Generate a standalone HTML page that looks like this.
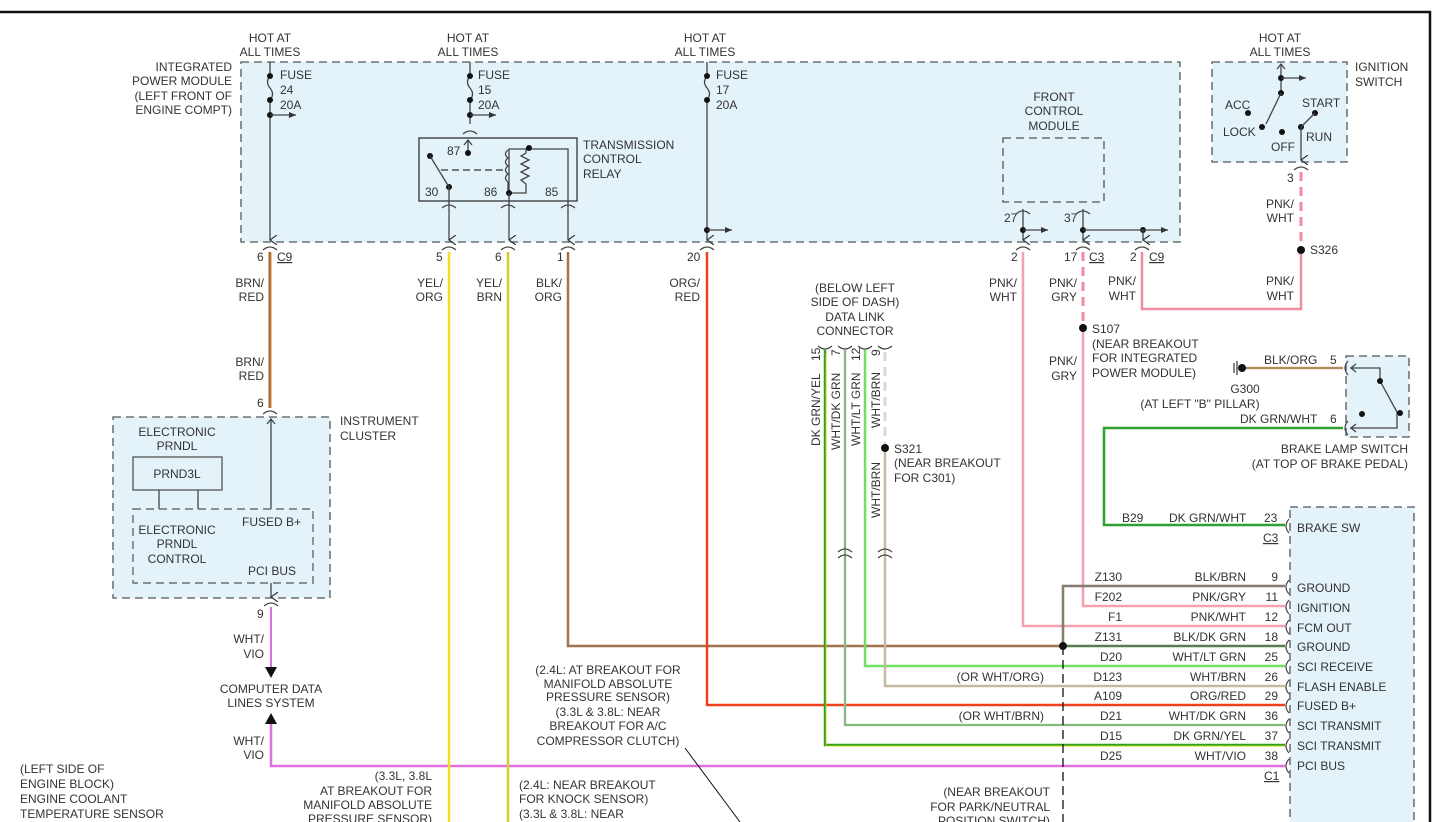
<!DOCTYPE html>
<html><head><meta charset="utf-8"><style>
html,body{margin:0;padding:0;background:#fff}
svg{display:block}
text{font-family:"Liberation Sans",sans-serif;font-size:12px;fill:#333}
.box{fill:#e4f3fa;stroke:#555;stroke-width:1.3;stroke-dasharray:8,5}
.w{fill:none;stroke:#444;stroke-width:1.3}
.c{fill:none;stroke:#444;stroke-width:1.2}
</style></head><body>
<svg width="1433" height="822" viewBox="0 0 1433 822" xmlns="http://www.w3.org/2000/svg">
<defs>
<marker id="ar" markerWidth="8" markerHeight="8" refX="7" refY="4" orient="auto" markerUnits="userSpaceOnUse"><path d="M0,1 L7,4 L0,7 z" fill="#333"/></marker>
<marker id="av" markerWidth="10" markerHeight="8" refX="5" refY="7" orient="auto" markerUnits="userSpaceOnUse"><path d="M0,0 L5,7 L10,0" fill="none" stroke="#333" stroke-width="1.2"/></marker>
</defs>
<!-- border -->
<line x1="0" y1="12" x2="1431" y2="12" stroke="#111" stroke-width="2.5"/>
<line x1="1430" y1="11" x2="1430" y2="822" stroke="#111" stroke-width="2.5"/>

<!-- IPM box -->
<rect class="box" x="241" y="62" width="939" height="180"/>
<text x="232" y="71" text-anchor="end">INTEGRATED</text>
<text x="232" y="85" text-anchor="end">POWER MODULE</text>
<text x="232" y="100" text-anchor="end">(LEFT FRONT OF</text>
<text x="232" y="114" text-anchor="end">ENGINE COMPT)</text>

<!-- hot at all times labels -->
<text x="270" y="42" text-anchor="middle">HOT AT</text><text x="270" y="56" text-anchor="middle">ALL TIMES</text>
<text x="468" y="42" text-anchor="middle">HOT AT</text><text x="468" y="56" text-anchor="middle">ALL TIMES</text>
<text x="705" y="42" text-anchor="middle">HOT AT</text><text x="705" y="56" text-anchor="middle">ALL TIMES</text>
<text x="1280" y="42" text-anchor="middle">HOT AT</text><text x="1280" y="56" text-anchor="middle">ALL TIMES</text>

<!-- Fuse 24 -->
<path class="w" d="M270,62 V76 q-5,6 0,12 q5,6 0,12 V240" marker-end="url(#av)"/>
<circle cx="270" cy="76" r="3" fill="#111"/><circle cx="270" cy="100" r="3" fill="#111"/><circle cx="270" cy="115" r="3" fill="#111"/>
<line class="w" x1="270" y1="115" x2="296" y2="115" marker-end="url(#ar)"/>
<text x="280" y="79">FUSE</text><text x="280" y="94">24</text><text x="280" y="109">20A</text>

<!-- Fuse 15 -->
<path class="w" d="M470,62 V76 q-5,6 0,12 q5,6 0,12 V124"/>
<circle cx="470" cy="76" r="3" fill="#111"/><circle cx="470" cy="100" r="3" fill="#111"/><circle cx="470" cy="115" r="3" fill="#111"/>
<line class="w" x1="470" y1="115" x2="496" y2="115" marker-end="url(#ar)"/>
<text x="478" y="79">FUSE</text><text x="478" y="94">15</text><text x="478" y="109">20A</text>
<path class="c" d="M463,134 q7,-6 14,0"/>

<!-- relay -->
<rect x="419" y="138" width="158" height="63" fill="#e4f3fa" stroke="#333" stroke-width="1.3"/>
<path class="w" d="M468,153 V140 M464,145 l4,-5 4,5"/>
<circle cx="468" cy="153" r="3" fill="#111"/>
<text x="447" y="155">87</text>
<circle cx="430" cy="156" r="3" fill="#111"/><circle cx="449" cy="187" r="3" fill="#111"/>
<line class="w" x1="430" y1="156" x2="449" y2="187"/>
<line x1="441" y1="170" x2="505" y2="170" stroke="#333" stroke-width="1.2" stroke-dasharray="7,4"/>
<path class="w" d="M509,197 V149 H568 V240" marker-end="url(#av)"/>
<path class="w" d="M508,150 q-5,4 0,8 q-5,4 0,8 q-5,4 0,8 q-5,4 0,8 M508,182 V193 H526 V184 l-5,-4 8,-4 -8,-4 8,-4 -8,-4 8,-4 -8,-4 5,-3 V149"/>
<circle cx="529" cy="148" r="3" fill="#111"/><circle cx="509" cy="193" r="3" fill="#111"/>
<path class="w" d="M449,187 V240" marker-end="url(#av)"/>
<path class="w" d="M509,193 V240" marker-end="url(#av)"/>
<text x="425" y="196">30</text><text x="484" y="196">86</text><text x="545" y="196">85</text>
<text x="583" y="149">TRANSMISSION</text><text x="583" y="163">CONTROL</text><text x="583" y="178">RELAY</text>
<path class="c" d="M442,208 q7,-6 14,0 M501,208 q7,-6 14,0 M561,208 q7,-6 14,0"/>

<!-- Fuse 17 -->
<path class="w" d="M707,62 V76 q-5,6 0,12 q5,6 0,12 V240" marker-end="url(#av)"/>
<circle cx="707" cy="76" r="3" fill="#111"/><circle cx="707" cy="100" r="3" fill="#111"/><circle cx="707" cy="230" r="3" fill="#111"/>
<line class="w" x1="707" y1="230" x2="732" y2="230" marker-end="url(#ar)"/>
<text x="716" y="79">FUSE</text><text x="716" y="94">17</text><text x="716" y="109">20A</text>

<!-- FCM -->
<rect class="box" x="1003" y="138" width="101" height="64"/>
<text x="1054" y="101" text-anchor="middle">FRONT</text><text x="1054" y="115" text-anchor="middle">CONTROL</text><text x="1054" y="130" text-anchor="middle">MODULE</text>
<path class="c" d="M1016,214 q7,-6 14,0 M1076,214 q7,-6 14,0"/>
<path class="w" d="M1023,209 V240" marker-end="url(#av)"/>
<path class="w" d="M1083,209 V240" marker-end="url(#av)"/>
<circle cx="1023" cy="230" r="3" fill="#111"/><circle cx="1083" cy="230" r="3" fill="#111"/><circle cx="1143" cy="230" r="3" fill="#111"/>
<line class="w" x1="1023" y1="230" x2="1048" y2="230" marker-end="url(#ar)"/>
<line class="w" x1="1083" y1="230" x2="1168" y2="230" marker-end="url(#ar)"/>
<path class="w" d="M1143,230 V240" marker-end="url(#av)"/>
<text x="1004" y="222">27</text><text x="1064" y="222">37</text>

<!-- connectors under IPM -->
<path class="c" d="M263,250 q7,-6 14,0 M442,250 q7,-6 14,0 M501,250 q7,-6 14,0 M561,250 q7,-6 14,0 M700,250 q7,-6 14,0 M1016,250 q7,-6 14,0 M1076,250 q7,-6 14,0 M1135,250 q7,-6 14,0"/>
<text x="257" y="261">6</text><text x="277" y="261" text-decoration="underline">C9</text>
<text x="436" y="261">5</text><text x="495" y="261">6</text><text x="557" y="261">1</text><text x="687" y="261">20</text>
<text x="1011" y="261">2</text><text x="1064" y="261">17</text><text x="1089" y="261" text-decoration="underline">C3</text>
<text x="1130" y="261">2</text><text x="1149" y="261" text-decoration="underline">C9</text>

<!-- Ignition switch -->
<rect class="box" x="1212" y="62" width="135" height="100"/>
<text x="1355" y="71">IGNITION</text><text x="1355" y="86">SWITCH</text>
<path class="w" d="M1281,92 V64 M1277,69 l4,-5 4,5"/>
<circle cx="1281" cy="78" r="3" fill="#111"/><circle cx="1281" cy="93" r="3" fill="#111"/>
<line class="w" x1="1281" y1="78" x2="1306" y2="78" marker-end="url(#ar)"/>
<line class="w" x1="1281" y1="93" x2="1266" y2="124"/>
<circle cx="1262" cy="127" r="3" fill="#111"/><circle cx="1248" cy="113" r="3" fill="#111"/><circle cx="1282" cy="132" r="3" fill="#111"/>
<circle cx="1315" cy="113" r="3" fill="#111"/><circle cx="1301" cy="127" r="3" fill="#111"/>
<line class="w" x1="1301" y1="127" x2="1315" y2="113"/>
<path class="w" d="M1301,127 V160" marker-end="url(#av)"/>
<text x="1225" y="109">ACC</text><text x="1223" y="136">LOCK</text><text x="1271" y="151">OFF</text>
<text x="1302" y="107">START</text><text x="1306" y="141">RUN</text>
<path class="c" d="M1294,170 q7,-6 14,0"/>
<text x="1287" y="182">3</text>

<!-- PNK/WHT from ignition -->
<line x1="1301" y1="172" x2="1301" y2="248" stroke="#f08ca0" stroke-width="3" stroke-dasharray="9,6"/>
<circle cx="1301" cy="250" r="4" fill="#111"/>
<text x="1310" y="254">S326</text>
<text x="1294" y="208" text-anchor="end">PNK/</text><text x="1294" y="222" text-anchor="end">WHT</text>
<text x="1294" y="285" text-anchor="end">PNK/</text><text x="1294" y="300" text-anchor="end">WHT</text>
<path d="M1142,252 V309 H1301 V254" fill="none" stroke="#f08ca0" stroke-width="2.5"/>
<text x="1136" y="285" text-anchor="end">PNK/</text><text x="1136" y="300" text-anchor="end">WHT</text>

<!-- left BRN/RED -->
<line x1="270" y1="252" x2="270" y2="408" stroke="#9a6a30" stroke-width="3"/>
<line x1="271" y1="252" x2="271" y2="408" stroke="#e08030" stroke-width="1"/>
<text x="264" y="287" text-anchor="end">BRN/</text><text x="264" y="301" text-anchor="end">RED</text>
<text x="264" y="366" text-anchor="end">BRN/</text><text x="264" y="380" text-anchor="end">RED</text>
<text x="257" y="407">6</text>
<path class="c" d="M263,414 q7,-6 14,0"/>

<!-- Instrument cluster -->
<rect class="box" x="113" y="417" width="217" height="181"/>
<text x="340" y="425">INSTRUMENT</text><text x="340" y="440">CLUSTER</text>
<text x="177" y="436" text-anchor="middle">ELECTRONIC</text><text x="177" y="450" text-anchor="middle">PRNDL</text>
<rect x="133" y="457" width="89" height="33" fill="#e4f3fa" stroke="#555" stroke-width="1.3"/>
<text x="177" y="478" text-anchor="middle">PRND3L</text>
<line class="w" x1="159" y1="490" x2="159" y2="509"/><line class="w" x1="198" y1="490" x2="198" y2="509"/>
<rect x="133" y="509" width="180" height="74" fill="none" stroke="#555" stroke-width="1.2" stroke-dasharray="8,5"/>
<text x="177" y="534" text-anchor="middle">ELECTRONIC</text><text x="177" y="548" text-anchor="middle">PRNDL</text><text x="177" y="563" text-anchor="middle">CONTROL</text>
<text x="242" y="526">FUSED B+</text><text x="248" y="575">PCI BUS</text>
<path class="w" d="M271,509 V419 M267,424 l4,-5 4,5"/>
<path class="w" d="M271,583 V597" marker-end="url(#av)"/>
<path class="c" d="M264,606 q7,-6 14,0"/>
<text x="257" y="618">9</text>
<line x1="271" y1="607" x2="271" y2="668" stroke="#e070e0" stroke-width="2"/>
<path d="M265,667 L277,667 L271,678 z" fill="#111"/>
<text x="264" y="643" text-anchor="end">WHT/</text><text x="264" y="658" text-anchor="end">VIO</text>
<text x="271" y="693" text-anchor="middle">COMPUTER DATA</text><text x="271" y="707" text-anchor="middle">LINES SYSTEM</text>
<path d="M265,724 L277,724 L271,713 z" fill="#111"/>
<text x="264" y="745" text-anchor="end">WHT/</text><text x="264" y="759" text-anchor="end">VIO</text>
<path d="M271,724 V766 H1285" fill="none" stroke="#e070e0" stroke-width="2.5"/>

<!-- YEL wires -->
<line x1="449" y1="252" x2="449" y2="822" stroke="#f0e020" stroke-width="2.5"/>
<line x1="508" y1="252" x2="508" y2="822" stroke="#d8cc30" stroke-width="2.5"/>
<text x="443" y="287" text-anchor="end">YEL/</text><text x="443" y="301" text-anchor="end">ORG</text>
<text x="502" y="287" text-anchor="end">YEL/</text><text x="502" y="301" text-anchor="end">BRN</text>
<text x="562" y="287" text-anchor="end">BLK/</text><text x="562" y="301" text-anchor="end">ORG</text>
<text x="700" y="287" text-anchor="end">ORG/</text><text x="700" y="301" text-anchor="end">RED</text>
<text x="1017" y="287" text-anchor="end">PNK/</text><text x="1017" y="301" text-anchor="end">WHT</text>
<text x="1077" y="287" text-anchor="end">PNK/</text><text x="1077" y="301" text-anchor="end">GRY</text>

<!-- BLK/ORG -->
<path d="M568,252 V646 H1063" fill="none" stroke="#8a6a50" stroke-width="2.5"/>
<path d="M568,252 V646 H1063" fill="none" stroke="#d08040" stroke-width="0.8"/>
<!-- ORG/RED -->
<path d="M707,252 V705 H1285" fill="none" stroke="#f04020" stroke-width="2.5"/>
<!-- PNK/WHT FCM -->
<path d="M1023,252 V626 H1285" fill="none" stroke="#f5a0b0" stroke-width="2.5"/>
<!-- PNK/GRY -->
<line x1="1083" y1="252" x2="1083" y2="325" stroke="#f08ca0" stroke-width="3" stroke-dasharray="9,6"/>
<path d="M1083,330 V606 H1285" fill="none" stroke="#f5a0b0" stroke-width="2.5"/>
<circle cx="1083" cy="328" r="4" fill="#111"/>
<text x="1092" y="333">S107</text><text x="1092" y="348">(NEAR BREAKOUT</text><text x="1092" y="362">FOR INTEGRATED</text><text x="1092" y="377">POWER MODULE)</text>
<text x="1077" y="365" text-anchor="end">PNK/</text><text x="1077" y="380" text-anchor="end">GRY</text>

<!-- Data link connector -->
<text x="855" y="292" text-anchor="middle">(BELOW LEFT</text><text x="855" y="306" text-anchor="middle">SIDE OF DASH)</text>
<text x="855" y="321" text-anchor="middle">DATA LINK</text><text x="855" y="335" text-anchor="middle">CONNECTOR</text>
<path class="c" d="M818,346 q7,6 14,0 M838,346 q7,6 14,0 M858,346 q7,6 14,0 M878,346 q7,6 14,0"/>
<text transform="translate(820,361) rotate(-90)">15</text>
<text transform="translate(840,356) rotate(-90)">7</text>
<text transform="translate(860,361) rotate(-90)">12</text>
<text transform="translate(880,356) rotate(-90)">9</text>
<text transform="translate(820,446) rotate(-90)">DK GRN/YEL</text>
<text transform="translate(840,450) rotate(-90)">WHT/DK GRN</text>
<text transform="translate(860,446) rotate(-90)">WHT/LT GRN</text>
<text transform="translate(880,428) rotate(-90)">WHT/BRN</text>
<text transform="translate(880,518) rotate(-90)">WHT/BRN</text>
<path d="M825,350 V745 H1285" fill="none" stroke="#30a020" stroke-width="2.5"/>
<path d="M825,352 V745 H1285" fill="none" stroke="#e0e000" stroke-width="0.7" transform="translate(1,1)"/>
<path d="M845,350 V725 H1285" fill="none" stroke="#c8c8c8" stroke-width="2.5"/>
<path d="M845,350 V725 H1285" fill="none" stroke="#40b030" stroke-width="1"/>
<path d="M865,350 V666 H1285" fill="none" stroke="#70e060" stroke-width="2.5"/>
<line x1="885" y1="352" x2="885" y2="445" stroke="#d8d8d8" stroke-width="3" stroke-dasharray="9,6"/>
<circle cx="885" cy="448" r="4" fill="#111"/>
<path d="M885,452 V686 H1285" fill="none" stroke="#c8b8a0" stroke-width="2.5"/>
<text x="894" y="453">S321</text><text x="894" y="467">(NEAR BREAKOUT</text><text x="894" y="482">FOR C301)</text>
<path class="c" d="M838,552 q7,-6 14,0 M838,558 q7,-6 14,0 M878,552 q7,-6 14,0 M878,558 q7,-6 14,0"/>
<text x="1044" y="681" text-anchor="end">(OR WHT/ORG)</text>
<text x="1044" y="720" text-anchor="end">(OR WHT/BRN)</text>

<!-- G300, brake lamp switch -->
<line x1="1234" y1="363" x2="1234" y2="373" stroke="#333" stroke-width="1.2"/>
<line x1="1237" y1="361" x2="1237" y2="375" stroke="#333" stroke-width="1.2"/>
<circle cx="1242" cy="368" r="4" fill="#111"/>
<line x1="1246" y1="368" x2="1343" y2="368" stroke="#e0a060" stroke-width="2.5"/>
<line x1="1246" y1="368" x2="1343" y2="368" stroke="#666" stroke-width="0.8"/>
<text x="1245" y="393" text-anchor="middle">G300</text>
<text x="1200" y="408" text-anchor="middle">(AT LEFT "B" PILLAR)</text>
<text x="1264" y="364">BLK/ORG</text><text x="1330" y="364">5</text>
<text x="1240" y="423">DK GRN/WHT</text><text x="1330" y="423">6</text>
<rect class="box" x="1346" y="356" width="63" height="81"/>
<path class="c" d="M1348,361 q-6,7 0,14 M1348,421 q-6,7 0,14"/>
<path class="w" d="M1350,368 H1380 V381 L1397,412 V428 H1350 M1356,364 l-5,4 5,4 M1356,424 l-5,4 5,4"/>
<circle cx="1380" cy="381" r="3" fill="#111"/><circle cx="1400" cy="413" r="3" fill="#111"/><circle cx="1362" cy="414" r="3" fill="#111"/>
<text x="1408" y="453" text-anchor="end">BRAKE LAMP SWITCH</text>
<text x="1408" y="468" text-anchor="end">(AT TOP OF BRAKE PEDAL)</text>
<path d="M1343,428 H1104 V525 H1285" fill="none" stroke="#30a030" stroke-width="2.5"/>
<text x="1122" y="522">B29</text><text x="1169" y="522">DK GRN/WHT</text><text x="1264" y="522">23</text>
<text x="1263" y="542" text-decoration="underline">C3</text>

<!-- PCM -->
<rect class="box" x="1290" y="507" width="124" height="330"/>
<path class="c" d="M1289,519 q-6,7 0,14"/>
<text x="1297" y="532">BRAKE SW</text>
<!-- ground dashed vertical -->
<line x1="1063" y1="590" x2="1063" y2="822" stroke="#111" stroke-width="1.3" stroke-dasharray="9,5"/>
<path d="M1063,646 V586 H1285" fill="none" stroke="#707070" stroke-width="2.5"/>
<path d="M1063,646 V586 H1285" fill="none" stroke="#c8a060" stroke-width="0.6"/>
<line x1="1063" y1="646" x2="1285" y2="646" stroke="#5a7a50" stroke-width="2.5"/>
<circle cx="1063" cy="646" r="4" fill="#111"/>
<g>
<text x="1122" y="581" text-anchor="end">Z130</text><text x="1246" y="581" text-anchor="end">BLK/BRN</text><text x="1278" y="581" text-anchor="end">9</text>
<text x="1122" y="601" text-anchor="end">F202</text><text x="1246" y="601" text-anchor="end">PNK/GRY</text><text x="1278" y="601" text-anchor="end">11</text>
<text x="1122" y="621" text-anchor="end">F1</text><text x="1246" y="621" text-anchor="end">PNK/WHT</text><text x="1278" y="621" text-anchor="end">12</text>
<text x="1122" y="641" text-anchor="end">Z131</text><text x="1246" y="641" text-anchor="end">BLK/DK GRN</text><text x="1278" y="641" text-anchor="end">18</text>
<text x="1122" y="661" text-anchor="end">D20</text><text x="1246" y="661" text-anchor="end">WHT/LT GRN</text><text x="1278" y="661" text-anchor="end">25</text>
<text x="1122" y="681" text-anchor="end">D123</text><text x="1246" y="681" text-anchor="end">WHT/BRN</text><text x="1278" y="681" text-anchor="end">26</text>
<text x="1122" y="700" text-anchor="end">A109</text><text x="1246" y="700" text-anchor="end">ORG/RED</text><text x="1278" y="700" text-anchor="end">29</text>
<text x="1122" y="720" text-anchor="end">D21</text><text x="1246" y="720" text-anchor="end">WHT/DK GRN</text><text x="1278" y="720" text-anchor="end">36</text>
<text x="1122" y="740" text-anchor="end">D15</text><text x="1246" y="740" text-anchor="end">DK GRN/YEL</text><text x="1278" y="740" text-anchor="end">37</text>
<text x="1122" y="760" text-anchor="end">D25</text><text x="1246" y="760" text-anchor="end">WHT/VIO</text><text x="1278" y="760" text-anchor="end">38</text>
<text x="1264" y="780" text-decoration="underline">C1</text>
</g>
<path class="c" d="M1289,580 q-6,7 0,14 M1289,600 q-6,7 0,14 M1289,620 q-6,7 0,14 M1289,640 q-6,7 0,14 M1289,660 q-6,7 0,14 M1289,680 q-6,7 0,14 M1289,699 q-6,7 0,14 M1289,719 q-6,7 0,14 M1289,739 q-6,7 0,14 M1289,759 q-6,7 0,14"/>
<text x="1297" y="592">GROUND</text><text x="1297" y="612">IGNITION</text><text x="1297" y="632">FCM OUT</text>
<text x="1297" y="651">GROUND</text><text x="1297" y="671">SCI RECEIVE</text><text x="1297" y="691">FLASH ENABLE</text>
<text x="1297" y="710">FUSED B+</text><text x="1297" y="730">SCI TRANSMIT</text><text x="1297" y="750">SCI TRANSMIT</text>
<text x="1297" y="770">PCI BUS</text>

<!-- bottom notes -->
<text x="608" y="674" text-anchor="middle">(2.4L: AT BREAKOUT FOR</text>
<text x="608" y="688" text-anchor="middle">MANIFOLD ABSOLUTE</text>
<text x="608" y="701" text-anchor="middle">PRESSURE SENSOR)</text>
<text x="608" y="716" text-anchor="middle">(3.3L &amp; 3.8L: NEAR</text>
<text x="608" y="730" text-anchor="middle">BREAKOUT FOR A/C</text>
<text x="608" y="745" text-anchor="middle">COMPRESSOR CLUTCH)</text>
<line x1="685" y1="748" x2="740" y2="822" stroke="#111" stroke-width="1"/>
<text x="432" y="780" text-anchor="end">(3.3L, 3.8L</text>
<text x="432" y="795" text-anchor="end">AT BREAKOUT FOR</text>
<text x="432" y="809" text-anchor="end">MANIFOLD ABSOLUTE</text>
<text x="432" y="823" text-anchor="end">PRESSURE SENSOR)</text>
<text x="519" y="789">(2.4L: NEAR BREAKOUT</text>
<text x="519" y="803">FOR KNOCK SENSOR)</text>
<text x="519" y="818">(3.3L &amp; 3.8L: NEAR</text>
<text x="1050" y="796" text-anchor="end">(NEAR BREAKOUT</text>
<text x="1050" y="811" text-anchor="end">FOR PARK/NEUTRAL</text>
<text x="1050" y="825" text-anchor="end">POSITION SWITCH)</text>
<text x="20" y="773">(LEFT SIDE OF</text>
<text x="20" y="788">ENGINE BLOCK)</text>
<text x="20" y="803">ENGINE COOLANT</text>
<text x="20" y="818">TEMPERATURE SENSOR</text>
</svg>
</body></html>
